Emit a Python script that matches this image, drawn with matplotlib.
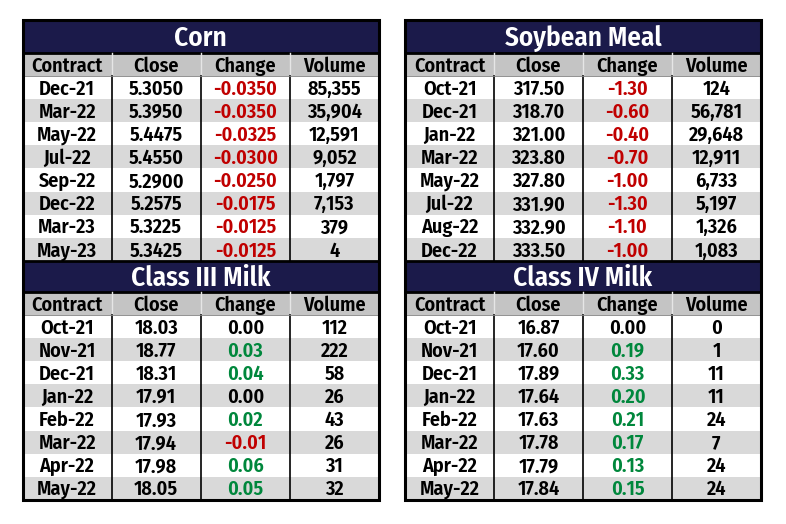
import matplotlib
matplotlib.use("Agg")
import matplotlib.pyplot as plt
from matplotlib.patches import Rectangle

# Table data
columns = ["Contract", "Close", "Change", "Volume"]

corn_contracts = ["Dec-21", "Mar-22", "May-22", "Jul-22", "Sep-22", "Dec-22", "Mar-23", "May-23"]
corn_close = [5.3050, 5.3950, 5.4475, 5.4550, 5.2900, 5.2575, 5.3225, 5.3425]
corn_change = [-0.0350, -0.0350, -0.0325, -0.0300, -0.0250, -0.0175, -0.0125, -0.0125]
corn_volume = [85355, 35904, 12591, 9052, 1797, 7153, 379, 4]

meal_contracts = ["Oct-21", "Dec-21", "Jan-22", "Mar-22", "May-22", "Jul-22", "Aug-22", "Dec-22"]
meal_close = [317.50, 318.70, 321.00, 323.80, 327.80, 331.90, 332.90, 333.50]
meal_change = [-1.30, -0.60, -0.40, -0.70, -1.00, -1.30, -1.10, -1.00]
meal_volume = [124, 56781, 29648, 12911, 6733, 5197, 1326, 1083]

milk3_contracts = ["Oct-21", "Nov-21", "Dec-21", "Jan-22", "Feb-22", "Mar-22", "Apr-22", "May-22"]
milk3_close = [18.03, 18.77, 18.31, 17.91, 17.93, 17.94, 17.98, 18.05]
milk3_change = [0.00, 0.03, 0.04, 0.00, 0.02, -0.01, 0.06, 0.05]
milk3_volume = [112, 222, 58, 26, 43, 26, 31, 32]

milk4_contracts = ["Oct-21", "Nov-21", "Dec-21", "Jan-22", "Feb-22", "Mar-22", "Apr-22", "May-22"]
milk4_close = [16.87, 17.60, 17.89, 17.64, 17.63, 17.78, 17.79, 17.84]
milk4_change = [0.00, 0.19, 0.33, 0.20, 0.21, 0.17, 0.13, 0.15]
milk4_volume = [0, 1, 11, 11, 24, 7, 24, 24]

navy = "#1b1a4a"
hdr_gray = "#c4c4c4"
row_gray = "#d9d9d9"
red = "#c00000"
green = "#00873c"
fam = ["Fira Sans Condensed", "DejaVu Sans"]

fig = plt.figure(figsize=(7.86, 5.24), dpi=100)
ax = fig.add_axes([0, 0, 1, 1])
ax.set_xlim(0, 786)
ax.set_ylim(524, 0)
ax.axis("off")


def draw_table(x0, x1, y0, title_h, title, contracts, close, change, volume, dec):
    w = x1 - x0
    cw = w / 4
    hh = 23.1
    rh = 23.1
    # title band
    ax.add_patch(Rectangle((x0, y0), w, title_h, facecolor=navy, edgecolor="black", lw=2, zorder=2))
    ax.text(x0 + w / 2, y0 + title_h / 2 + 2, title, color="white", fontsize=19.5, fontweight=600,
            family=fam, ha="center", va="center", zorder=5)
    # header
    yh = y0 + title_h
    ax.add_patch(Rectangle((x0, yh), w, hh, facecolor=hdr_gray, edgecolor="none", zorder=1))
    for i, c in enumerate(columns):
        ax.text(x0 + cw * (i + 0.5), yh + hh / 2 + 1.5, c, fontsize=14.5, fontweight=600, family=fam,
                ha="center", va="center", color="black", zorder=5)
        if i > 0:
            ax.plot([x0 + cw * i] * 2, [yh, yh + hh], color="#e6e6e6", lw=1, zorder=3)
    # rows
    yr = yh + hh
    for r in range(len(contracts)):
        y = yr + r * rh
        fc = "white" if r % 2 == 0 else row_gray
        ax.add_patch(Rectangle((x0, y), w, rh, facecolor=fc, edgecolor="none", zorder=1))
        ch = change[r]
        if ch < 0:
            cc = red
        elif ch > 0:
            cc = green
        else:
            cc = "black"
        vals = [contracts[r], f"{close[r]:.{dec}f}", f"{ch:.{dec}f}", f"{volume[r]:,}"]
        cols = ["black", "black", cc, "black"]
        for i, v in enumerate(vals):
            ax.text(x0 + cw * (i + 0.5), y + rh / 2 + 1.5, v, fontsize=14.5, fontweight=600, family=fam,
                    ha="center", va="center", color=cols[i], zorder=5)
    yb = yr + len(contracts) * rh
    for i in range(1, 4):
        ax.plot([x0 + cw * i] * 2, [yr, yb], color="black", lw=1.2, zorder=3)
    ax.plot([x0, x1], [yr, yr], color="#808080", lw=0.6, zorder=3)
    return yb


yb = draw_table(22.5, 379, 19.5, 33.5, "Corn", corn_contracts, corn_close, corn_change, corn_volume, 4)
draw_table(405, 761, 19.5, 33.5, "Soybean Meal", meal_contracts, meal_close, meal_change, meal_volume, 2)
yb2 = draw_table(22.5, 379, yb, 31, "Class III Milk", milk3_contracts, milk3_close, milk3_change, milk3_volume, 2)
draw_table(405, 761, yb, 31, "Class IV Milk", milk4_contracts, milk4_close, milk4_change, milk4_volume, 2)

# outer borders
for x0, x1 in [(22.5, 379), (405, 761)]:
    ax.add_patch(Rectangle((x0, 19.5), x1 - x0, yb2 - 19.5, facecolor="none", edgecolor="black", lw=2.2, zorder=6))

fig.savefig("out.png", dpi=100)
